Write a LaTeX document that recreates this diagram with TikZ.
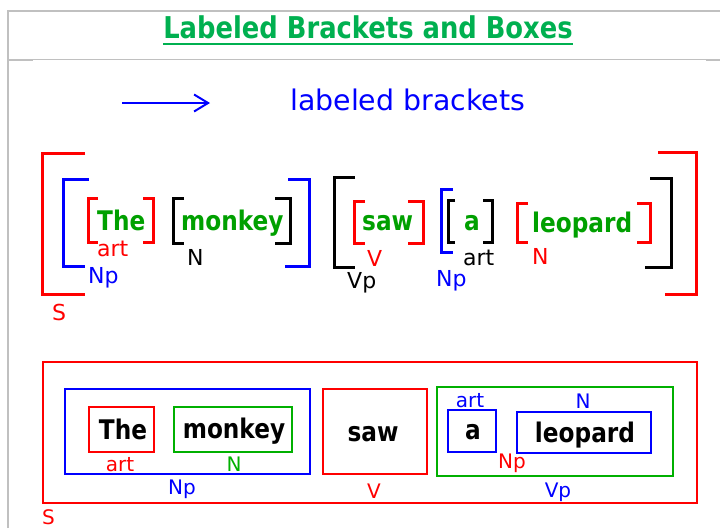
\documentclass[tikz,border=0pt]{standalone}
\usepackage{fontspec}
\setmainfont{DejaVu Sans}
\newfontfamily\narrowfam[FakeStretch=0.86]{DejaVu Sans}
\usetikzlibrary{arrows.meta,calc}
\definecolor{rd}{RGB}{255,0,0}
\definecolor{bl}{RGB}{0,0,255}
\definecolor{tgreen}{RGB}{0,160,0}
\definecolor{bgreen}{RGB}{0,176,0}
\definecolor{titlegreen}{RGB}{0,176,80}
\definecolor{framegray}{RGB}{192,192,192}
\begin{document}
\begin{tikzpicture}[x=1pt,y=-1pt,
  brk/.style={line width=3pt},
  bx/.style={line width=2.2pt},
  word/.style={inner sep=0pt, anchor=base west, text=tgreen, font=\narrowfam\fontsize{27}{27}\selectfont\bfseries},
  lab/.style={inner sep=0pt, anchor=base west, font=\fontsize{22}{22}\selectfont},
  bword/.style={inner sep=0pt, anchor=base, text=black, font=\narrowfam\fontsize{27}{27}\selectfont\bfseries},
  blab/.style={inner sep=0pt, anchor=base, font=\fontsize{20}{20}\selectfont}]
\useasboundingbox (0,0) rectangle (720,528);
\fill[white] (0,0) rectangle (720,528);
% frame
\draw[framegray, line width=2pt] (7.5,528) -- (7.5,11) -- (720,11);
\draw[framegray, line width=1.2pt] (7.5,59.6) -- (720,59.6);
\draw[framegray, line width=2pt] (8,60) -- (33,60);
\draw[framegray, line width=2pt] (706,60) -- (720,60);
% title
\node[inner sep=0pt, anchor=base, text=titlegreen, font=\narrowfam\fontsize{30}{30}\selectfont\bfseries] (title) at (368,38) {Labeled Brackets and Boxes};
\draw[titlegreen, line width=2.7pt] ($(title.base west)+(0,6)$) -- ($(title.base east)+(0,6)$);
% legend arrow
\coordinate (a1) at (122,103);
\coordinate (a2) at (210,103);
\draw[bl, line width=2.5pt, -{Straight Barb[length=14pt,width=17pt,line width=2pt]}] (a1) -- (a2);
\node[inner sep=0pt, anchor=base west, text=bl, font=\fontsize{28.4}{28}\selectfont] (legend) at (290,110.5) {labeled brackets};
% ---------- brackets ----------
\draw[rd,brk] (85,153) -- (42.5,153) -- (42.5,294) -- (85,294);
\draw[rd,brk] (658,152) -- (696,152) -- (696,294) -- (665,294);
\draw[bl,brk] (89,179) -- (63.5,179) -- (63.5,266) -- (85,266);
\draw[bl,brk] (288,179) -- (309,179) -- (309,266) -- (285,266);
\draw[rd,brk] (98,198) -- (88,198) -- (88,242) -- (98,242);
\draw[rd,brk] (143,198) -- (153,198) -- (153,242) -- (143,242);
\draw[black,brk] (184,198) -- (173.5,198) -- (173.5,243) -- (184,243);
\draw[black,brk] (275,198) -- (290,198) -- (290,243) -- (275,243);
\draw[black,brk] (355,177) -- (334,177) -- (334,267) -- (355,267);
\draw[black,brk] (650,178) -- (671.5,178) -- (671.5,267) -- (645,267);
\draw[rd,brk] (365,201) -- (354,201) -- (354,243) -- (365,243);
\draw[rd,brk] (408,201) -- (423.5,201) -- (423.5,243) -- (408,243);
\draw[bl,brk] (453,189) -- (441,189) -- (441,252) -- (453,252);
\draw[black,brk] (455,200) -- (448,200) -- (448,242) -- (455,242);
\draw[black,brk] (483,200) -- (492.5,200) -- (492.5,242) -- (483,242);
\draw[rd,brk] (528,203) -- (517.5,203) -- (517.5,242) -- (528,242);
\draw[rd,brk] (637,203) -- (650,203) -- (650,242) -- (637,242);
% words
\node[word] (w1) at (97,230) {The};
\node[word] (w2) at (181,230) {monkey};
\node[word] (w3) at (362,230) {saw};
\node[word] (w4) at (464,230) {a};
\node[word] (w5) at (532,232) {leopard};
% labels
\node[lab,text=rd] (l1) at (97,256.5) {art};
\node[lab,text=black] (l2) at (187,265) {N};
\node[lab,text=bl] (l3) at (88,283) {Np};
\node[lab,text=rd] (l4) at (52,320) {S};
\node[lab,text=rd] (l5) at (367,266) {V};
\node[lab,text=black] (l6) at (347,288) {Vp};
\node[lab,text=bl] (l7) at (436,286) {Np};
\node[lab,text=black] (l8) at (463,265) {art};
\node[lab,text=rd] (l9) at (532,264) {N};
% ---------- boxes ----------
\draw[rd,bx] (43,362) rectangle (697,503);
\draw[bl,bx] (65,389) rectangle (310,474);
\draw[rd,bx] (89,407) rectangle (154,452);
\draw[bgreen,bx] (174,407) rectangle (292,452);
\draw[rd,bx] (323,389) rectangle (427,474);
\draw[bgreen,bx] (437,387) rectangle (673,476);
\draw[bl,bx] (448,410) rectangle (496,452);
\draw[bl,bx] (517,412) rectangle (651,453);
\node[bword] (b1) at (123,439) {The};
\node[bword] (b2) at (234,438) {monkey};
\node[bword] (b3) at (373,441) {saw};
\node[bword] (b4) at (473,439) {a};
\node[bword] (b5) at (585,442) {leopard};
\node[blab,text=rd] (c1) at (120,471) {art};
\node[blab,text=bgreen] (c2) at (234,471) {N};
\node[blab,text=bl] (c3) at (182,494) {Np};
\node[blab,text=rd,anchor=base west] (c4) at (42,524.5) {S};
\node[blab,text=rd] (c5) at (374,498) {V};
\node[blab,text=bl] (c6) at (558,497) {Vp};
\node[blab,text=bl] (c7) at (470,407) {art};
\node[blab,text=bl] (c8) at (583,408) {N};
\node[blab,text=rd] (c9) at (512,468) {Np};
\end{tikzpicture}
\end{document}
